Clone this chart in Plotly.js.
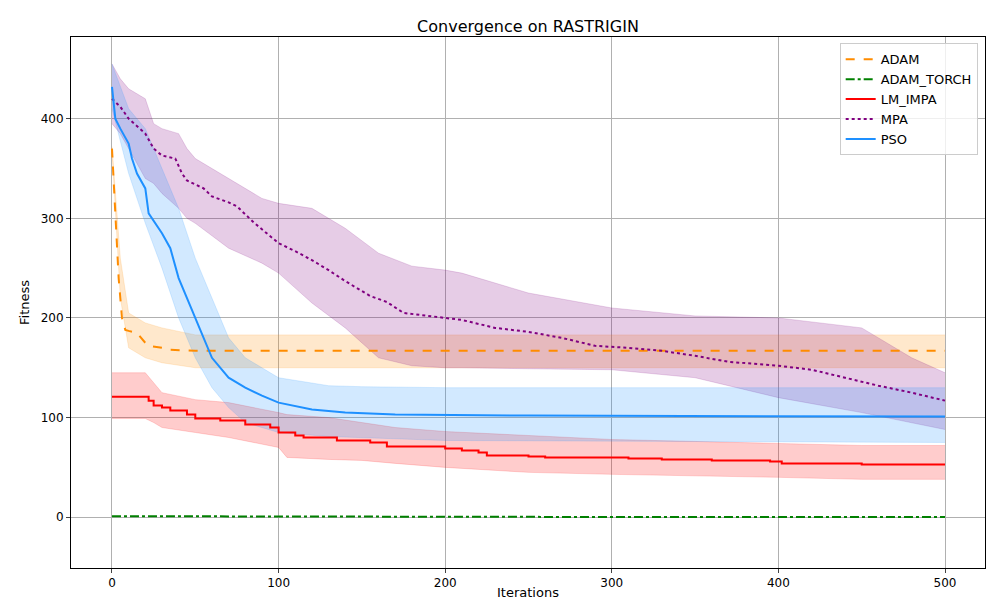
<!DOCTYPE html>
<html>
<head>
<script src="https://cdn.plot.ly/plotly-3.0.1.min.js"></script>
<style>body{margin:0}</style>
</head>
<body>
<div id="mainPlot" style="width:1000px;height:600px"></div>
<script>
MAINPLOT = document.getElementById('mainPlot');

// ADAM
let adam_x = [0, 2, 4, 6, 8, 10, 15, 20, 22, 30, 35, 50, 500];
let adam_y = [370, 300, 240, 200, 188, 187, 185, 175, 172, 170, 168, 167, 167];
let adam_band_x = [0, 5, 10, 20, 30, 50, 500];
let adam_hi = [372, 260, 205, 195, 190, 183, 183];
let adam_lo = [368, 220, 170, 160, 155, 150, 150];

// ADAM_TORCH
let torch_x = [0, 100, 200, 300, 400, 500];
let torch_y = [1, 0.5, 0.3, 0.2, 0.1, 0.1];

// LM_IMPA
let lm_x = [0, 20, 22, 25, 30, 35, 45, 50, 65, 80, 95, 100, 110, 115, 135, 155, 165, 200, 210, 220, 225, 250, 260, 310, 330, 360, 395, 402, 450, 500];
let lm_y = [121, 121, 117, 112, 110, 107, 103, 99, 97, 93, 90, 85, 82, 80, 77, 75, 71, 69, 67, 65, 62, 61, 60, 59, 58, 57, 56, 54, 53, 53];
let lm_band_x = [0, 20, 25, 30, 50, 70, 100, 105, 130, 150, 170, 200, 250, 300, 400, 450, 500];
let lm_hi = [145, 145, 135, 125, 118, 115, 105, 103, 100, 95, 90, 86, 82, 78, 74, 72, 72];
let lm_lo = [99, 99, 95, 90, 85, 80, 70, 60, 58, 57, 54, 50, 45, 43, 40, 38, 38];

// MPA
let mpa_x = [0, 5, 10, 20, 25, 30, 38, 42, 45, 55, 60, 70, 75, 85, 95, 100, 110, 120, 130, 140, 155, 165, 175, 190, 210, 230, 250, 270, 290, 310, 330, 350, 370, 400, 420, 440, 460, 480, 500];
let mpa_y = [420, 412, 400, 385, 370, 363, 360, 345, 338, 330, 322, 316, 312, 296, 282, 275, 267, 258, 248, 237, 222, 216, 205, 202, 198, 190, 186, 180, 172, 170, 167, 162, 156, 152, 148, 140, 132, 125, 117];
let mpa_band_x = [0, 5, 10, 20, 25, 30, 40, 45, 50, 70, 90, 100, 120, 140, 160, 180, 200, 210, 250, 300, 350, 400, 450, 480, 500];
let mpa_hi = [455, 440, 430, 420, 395, 390, 385, 370, 360, 340, 320, 315, 310, 290, 265, 252, 248, 245, 225, 210, 202, 200, 190, 160, 145];
let mpa_lo = [395, 385, 370, 340, 335, 325, 310, 300, 295, 270, 255, 245, 215, 190, 160, 152, 150, 150, 149, 148, 140, 120, 105, 95, 88];

// PSO
let pso_x = [0, 2, 5, 10, 12, 15, 20, 22, 30, 35, 40, 45, 50, 55, 60, 70, 80, 90, 100, 120, 140, 170, 250, 500];
let pso_y = [432, 400, 390, 375, 360, 345, 330, 305, 285, 270, 240, 220, 200, 180, 160, 140, 130, 122, 115, 108, 105, 103, 102, 101];
let pso_band_x = [0, 10, 20, 30, 40, 50, 60, 70, 80, 100, 130, 150, 200, 500];
let pso_hi = [455, 410, 390, 350, 310, 260, 220, 180, 160, 140, 132, 131, 130, 130];
let pso_lo = [410, 345, 295, 250, 200, 160, 130, 110, 95, 85, 81, 80, 77, 75];

function band(x, lo, hi, fillc) {
    return [
        {x: x, y: lo, type: 'scatter', mode: 'lines', line: {width: 0.8, color: fillc}, showlegend: false, hoverinfo: 'skip'},
        {x: x, y: hi, type: 'scatter', mode: 'lines', line: {width: 0.8, color: fillc}, fill: 'tonexty', fillcolor: fillc, showlegend: false, hoverinfo: 'skip'}
    ];
}

function line(x, y, name, color, dash, shape) {
    return {x: x, y: y, type: 'scatter', mode: 'lines', name: name,
        line: {color: color, width: 2, dash: dash, shape: shape || 'linear'}};
}

var data = [].concat(
    band(adam_band_x, adam_lo, adam_hi, 'rgba(255,140,0,0.2)'),
    band(lm_band_x, lm_lo, lm_hi, 'rgba(255,0,0,0.2)'),
    band(mpa_band_x, mpa_lo, mpa_hi, 'rgba(128,0,128,0.2)'),
    band(pso_band_x, pso_lo, pso_hi, 'rgba(30,144,255,0.2)'),
    [
        line(adam_x, adam_y, 'ADAM', '#ff8c00', 'dash'),
        line(torch_x, torch_y, 'ADAM_TORCH', '#008000', 'dashdot'),
        line(lm_x, lm_y, 'LM_IMPA', '#ff0000', 'solid', 'hv'),
        line(mpa_x, mpa_y, 'MPA', '#800080', 'dot'),
        line(pso_x, pso_y, 'PSO', '#1e90ff', 'solid')
    ]
);

var axisStyle = {
    showgrid: true, gridcolor: '#b0b0b0', gridwidth: 1,
    showline: true, linecolor: 'black', linewidth: 1, mirror: true,
    ticks: 'outside', ticklen: 4, zeroline: false,
    tickfont: {size: 12, color: 'black'}
};

var layout = {
    width: 1000, height: 600,
    font: {family: 'DejaVu Sans', color: 'black'},
    title: {text: 'Convergence on RASTRIGIN', font: {size: 16}, x: 0.528, y: 0.965},
    margin: {l: 71, r: 15, t: 37, b: 32},
    paper_bgcolor: 'white', plot_bgcolor: 'white',
    xaxis: Object.assign({}, axisStyle, {range: [-24.6, 524], tickvals: [0, 100, 200, 300, 400, 500],
        title: {text: 'Iterations', font: {size: 13}, standoff: 4}}),
    yaxis: Object.assign({}, axisStyle, {range: [-51, 482], tickvals: [0, 100, 200, 300, 400],
        title: {text: 'Fitness', font: {size: 13}, standoff: 8}}),
    legend: {x: 0.992, y: 0.988, xanchor: 'right', yanchor: 'top', bgcolor: 'rgba(255,255,255,0.8)',
        bordercolor: '#cccccc', borderwidth: 1, font: {size: 13}, traceorder: 'normal'},
    showlegend: true
};

Plotly.newPlot(MAINPLOT, data, layout, {staticPlot: true});
</script>
</body>
</html>
